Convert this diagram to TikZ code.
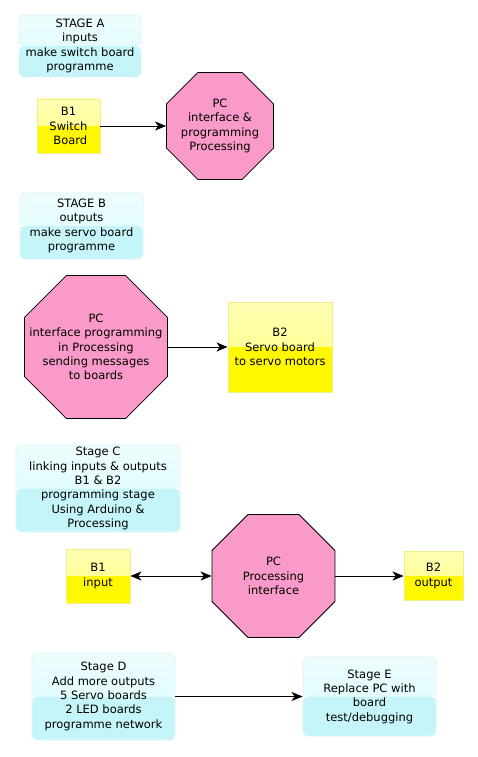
\documentclass[tikz,border=0pt]{standalone}
\usepackage{fontspec}
\setmainfont{DejaVu Sans}
\usetikzlibrary{shapes.geometric,arrows.meta}
\definecolor{cyanTop}{HTML}{EEFDFE}
\definecolor{cyanMid}{HTML}{DAFAFC}
\definecolor{cyanBot}{HTML}{C6F5F9}
\definecolor{cyanEdge}{HTML}{D8F5F8}
\definecolor{yelTop}{HTML}{FFFFB4}
\definecolor{yelMid}{HTML}{FFFF80}
\definecolor{yelBot}{HTML}{FFF800}
\definecolor{yelEdge}{HTML}{F2EC8C}
\definecolor{pinkFill}{HTML}{F99AC9}
\tikzset{
  txt/.style={font=\fontsize{11.5}{14.3}\selectfont, align=center, text=black},
  stagebox/.style={txt, rectangle, rounded corners=5pt, draw=cyanEdge, line width=0.8pt, inner sep=0pt,
    path picture={
      \shade[top color=cyanTop, bottom color=cyanMid] (path picture bounding box.north west) rectangle (path picture bounding box.east);
      \fill[cyanBot] (path picture bounding box.west) rectangle (path picture bounding box.south east);
    }},
  boardbox/.style={txt, rectangle, draw=yelEdge, line width=0.8pt, inner sep=0pt,
    path picture={
      \shade[top color=yelTop, bottom color=yelMid] (path picture bounding box.north west) rectangle (path picture bounding box.east);
      \fill[yelBot] (path picture bounding box.west) rectangle (path picture bounding box.south east);
    }},
  octo/.style={regular polygon, regular polygon sides=8, draw=black, line width=0.8pt, fill=pinkFill, inner sep=0pt},
  octtxt/.style={txt},
  conn/.style={draw=black, line width=0.9pt},
  >={Stealth[length=11pt,width=9pt,inset=3pt]}
}
\begin{document}
\begin{tikzpicture}[x=1pt,y=-1pt]
\useasboundingbox[fill=white] (0,0) rectangle (478,757);
% Stage A
\node[stagebox, minimum width=122pt, minimum height=62pt] (stageA) at (80,46) {STAGE A\\inputs\\make switch board\\programme};
\node[boardbox, minimum width=63pt, minimum height=54pt] (b1a) at (68.5,126) {B1\\Switch\\\ Board};
\node[octo, minimum size=115.8pt, label={[octtxt]center:{PC\\interface \&\\programming\\Processing}}] (octA) at (220,126) {};
\draw[conn,->] (b1a) -- (octA);
% Stage B
\node[stagebox, minimum width=123pt, minimum height=66pt] (stageB) at (81.5,226) {STAGE B\\outputs\\make servo board\\programme};
\node[octo, minimum size=154.8pt, label={[octtxt]center:{PC\\interface programming\\in Processing\\sending messages\\to boards}}] (octB) at (96,347) {};
\node[boardbox, minimum width=104pt, minimum height=90pt] (b2b) at (280,347) {B2\\Servo board\\to servo motors};
\draw[conn,->] (octB) -- (b2b);
% Stage C
\node[stagebox, minimum width=164pt, minimum height=87pt] (stageC) at (98,488.5) {Stage C\\linking inputs \& outputs\\B1 \& B2\\programming stage\\Using Arduino \&\\Processing};
\node[boardbox, minimum width=64pt, minimum height=54pt] (b1c) at (98,576) {B1\\input};
\node[octo, minimum size=133.1pt, label={[octtxt]center:{PC\\Processing\\interface}}] (octC) at (273.5,576) {};
\node[boardbox, minimum width=59pt, minimum height=49pt] (b2c) at (433.5,576) {B2\\output};
\draw[conn,<->] (b1c) -- (octC);
\draw[conn,->] (octC) -- (b2c);
% Stage D / E
\node[stagebox, minimum width=143pt, minimum height=87pt] (stageD) at (103.5,696.5) {Stage D\\Add more outputs\\5 Servo boards\\2 LED boards\\programme network};
\node[stagebox, minimum width=133pt, minimum height=79pt] (stageE) at (369.5,696.5) {Stage E\\Replace PC with\\board\\test/debugging};
\draw[conn,->] (stageD) -- (stageE);
\end{tikzpicture}
\end{document}
